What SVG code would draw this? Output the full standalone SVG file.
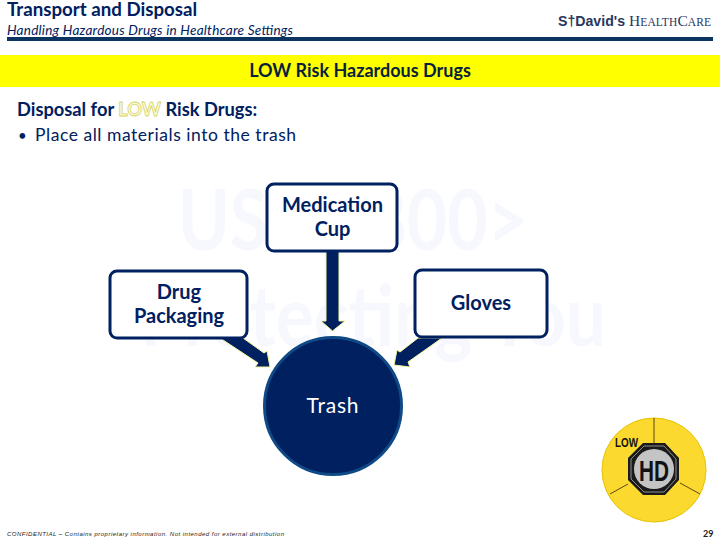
<svg xmlns="http://www.w3.org/2000/svg" width="720" height="540" viewBox="0 0 720 540">
<style>
text{font-family:"Lato","Open Sans","Liberation Sans",sans-serif;fill:#002060}
.b{font-weight:700}
.box{fill:#fff;stroke:#002060;stroke-width:3}
.lbl{font-size:20px;font-weight:700;text-anchor:middle}
.wm{font-size:84px;font-weight:700;fill:#f6f8fd}
.arr{fill:#002060;stroke:#f5f59a;stroke-width:1}
.hd{font-family:"Liberation Sans",sans-serif;font-weight:700;fill:#111}
</style>
<rect width="720" height="540" fill="#fff"/>
<g id="watermark">
<text x="178" y="250" class="wm" textLength="350" lengthAdjust="spacingAndGlyphs">USP &lt;800&gt;</text>
<text x="140" y="346" class="wm" textLength="466" lengthAdjust="spacingAndGlyphs">Protecting You</text>
</g>
<g id="header">
<text x="7" y="16" class="b" font-size="18.700">Transport and Disposal</text>
<text x="7" y="35" font-size="13.500" font-style="italic" textLength="286">Handling Hazardous Drugs in Healthcare Settings</text>
<rect x="7" y="37" width="706" height="4" fill="#0b3560"/>
<g id="logo">
<text x="558" y="26" font-size="15.500" textLength="67" lengthAdjust="spacingAndGlyphs" style="font-family:'Liberation Sans',sans-serif;font-weight:700;fill:#2a3560">S†David's</text>
<text x="629" y="26" font-size="15.500" textLength="82" style="font-family:'Liberation Serif',serif;fill:#2a3560">H<tspan font-size="11.500">EALTH</tspan>C<tspan font-size="11.500">ARE</tspan></text>
</g>
</g>
<g id="banner">
<rect x="0" y="55" width="720" height="32" fill="#ffff00"/>
<text x="360" y="77" class="b" font-size="18" text-anchor="middle" style="fill:#0a1f3c">LOW Risk Hazardous Drugs</text>
</g>
<g id="body">
<text x="17" y="116" class="b" font-size="18.300">Disposal for <tspan style="fill:#fbfbe0;stroke:#d8d45c;stroke-width:.8">LOW</tspan> Risk Drugs:</text>
<text x="18" y="141" font-size="15">•</text>
<text x="35" y="141" font-size="17.500" textLength="261">Place all materials into the trash</text>
</g>
<g id="connectors">
<path class="arr" d="M326 251H339V321H345L332.500 331L321 321H326Z"/>
<path class="arr" d="M220 338L243 338L264 353L267 351L270 367L255 367L258 363Z"/>
<path class="arr" d="M442 338L418 338L400 352L397 350L394 365L410 367L408 362Z"/>
</g>
<g id="medication-cup">
<rect class="box" x="267" y="184" width="130" height="67" rx="7"/>
<text class="lbl" x="332.500" y="212">Medication</text>
<text class="lbl" x="332.500" y="236">Cup</text>
</g>
<g id="drug-packaging">
<rect class="box" x="110" y="271" width="137" height="67" rx="7"/>
<text class="lbl" x="179" y="299">Drug</text>
<text class="lbl" x="179" y="323">Packaging</text>
</g>
<g id="gloves">
<rect class="box" x="415" y="270" width="132" height="67" rx="7"/>
<text class="lbl" x="481" y="310">Gloves</text>
</g>
<g id="trash">
<circle cx="333" cy="406" r="68.500" fill="#002060" stroke="#0f4a87" stroke-width="3"/>
<text x="333" y="413" font-size="21" letter-spacing=".8" text-anchor="middle" style="fill:#fff">Trash</text>
</g>
<g id="low-hd-badge">
<circle cx="654" cy="470" r="52" fill="#fbd92f" stroke="#e6c200" stroke-width="1"/>
<path d="M654 418V444M628 484L610 494M680 483L700 494" stroke="#5a4a10" stroke-width="1" fill="none"/>
<polygon points="643,443 665,443 679,458 679,480 665,495 643,495 628,480 628,458" fill="#1a1a1a"/>
<polygon points="644,446 664,446 676,459 676,479 664,492 644,492 631,479 631,459" fill="none" stroke="#ddd" stroke-width=".6"/>
<circle cx="654" cy="469" r="20" fill="#c4c4c4"/>
<text x="639" y="481" font-size="30" class="hd" textLength="30" lengthAdjust="spacingAndGlyphs">HD</text>
<text x="615" y="447" font-size="12.500" class="hd" textLength="23" lengthAdjust="spacingAndGlyphs">LOW</text>
</g>
<g id="footer">
<text x="7" y="536" font-size="6" font-style="italic" textLength="277" style="font-family:'Liberation Sans',sans-serif;fill:#222">CONFIDENTIAL – Contains proprietary information. Not intended for external distribution</text>
<text x="703" y="537" font-size="9" class="b" style="fill:#222">29</text>
</g>
</svg>
